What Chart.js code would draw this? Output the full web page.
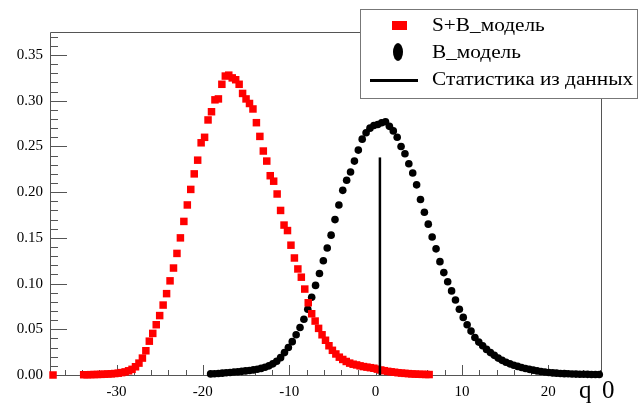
<!DOCTYPE html>
<html>
<head>
<meta charset="utf-8">
<script src="https://cdn.jsdelivr.net/npm/chart.js@4.4.1/dist/chart.umd.min.js"></script>
<style>
html,body{margin:0;padding:0;background:#fff;}
#wrap{width:642px;height:403px;}
</style>
</head>
<body>
<div id="wrap"><canvas id="c" width="642" height="403"></canvas></div>
<script>
// ---- data ----
const seriesLabels = ["S+B_модель", "B_модель", "Статистика из данных"];
const axisTitleX = ["q", "0"];

// S+B model: [q0, probability]
const sbModel = [
[-37.35,0.0000],
[-33.8,0.0003],[-33.4,0.0003],[-33.0,0.0004],[-32.6,0.0005],[-32.2,0.0006],[-31.8,0.0007],[-31.4,0.0009],[-31.0,0.0011],
[-30.6,0.0013],[-30.2,0.0016],[-29.8,0.0020],[-29.4,0.0026],[-29.0,0.0034],[-28.6,0.0046],[-28.2,0.0062],[-27.8,0.0090],
[-27.4,0.0130],[-27.0,0.0185],[-26.6,0.0265],[-26.2,0.0370],[-25.8,0.0455],[-25.4,0.0550],[-25.0,0.0650],[-24.6,0.0765],
[-24.2,0.0890],[-23.8,0.1030],[-23.4,0.1170],[-23.0,0.1330],[-22.6,0.1500],[-22.2,0.1680],[-21.8,0.1860],[-21.4,0.2030],
[-21.0,0.2200],[-20.6,0.2350],[-20.2,0.2540],[-19.8,0.2600],[-19.4,0.2790],[-19.0,0.2880],[-18.6,0.3010],[-18.2,0.3020],
[-17.8,0.3180],[-17.4,0.3270],[-17.0,0.3280],[-16.6,0.3250],[-16.2,0.3230],[-15.8,0.3180],[-15.4,0.3080],[-15.0,0.3020],
[-14.6,0.2970],[-14.2,0.2910],[-13.8,0.2760],[-13.4,0.2610],[-13.0,0.2450],[-12.6,0.2340],[-12.2,0.2180],[-11.8,0.2120],
[-11.4,0.1980],[-11.0,0.1800],[-10.6,0.1640],[-10.2,0.1580],[-9.8,0.1420],[-9.4,0.1280],[-9.0,0.1160],[-8.6,0.1070],
[-8.2,0.0940],[-7.8,0.0790],[-7.4,0.0670],[-7.0,0.0590],[-6.6,0.0510],[-6.2,0.0440],[-5.8,0.0380],[-5.4,0.0320],
[-5.0,0.0270],[-4.6,0.0230],[-4.2,0.0195],[-3.8,0.0170],[-3.4,0.0148],[-3.0,0.0130],[-2.6,0.0118],[-2.2,0.0110],
[-1.8,0.0100],[-1.4,0.0092],[-1.0,0.0086],[-0.6,0.0080],[-0.2,0.0074],[0.2,0.0064],[0.6,0.0055],[1.0,0.0047],
[1.4,0.0040],[1.8,0.0035],[2.2,0.0030],[2.6,0.0025],[3.0,0.0021],[3.4,0.0018],[3.8,0.0015],[4.2,0.0012],
[4.6,0.0010],[5.0,0.0008],[5.4,0.0007],[5.8,0.0006],[6.2,0.0005]
];

// B model: [q0, probability]
const bModel = [
[-19.1,0.0012],[-18.65,0.0014],[-18.2,0.0017],[-17.75,0.0020],[-17.3,0.0024],[-16.85,0.0028],[-16.4,0.0032],[-15.95,0.0036],
[-15.5,0.0040],[-15.05,0.0045],[-14.6,0.0050],[-14.15,0.0056],[-13.7,0.0063],[-13.25,0.0072],[-12.8,0.0084],[-12.35,0.0100],
[-11.9,0.0122],[-11.45,0.0150],[-11.0,0.0190],[-10.55,0.0245],[-10.1,0.0300],[-9.65,0.0365],[-9.2,0.0440],[-8.75,0.0520],
[-8.3,0.0610],[-7.85,0.0720],[-7.4,0.0850],[-6.95,0.0980],[-6.5,0.1110],[-6.05,0.1250],[-5.6,0.1390],[-5.15,0.1530],
[-4.7,0.1700],[-4.25,0.1860],[-3.8,0.2020],[-3.35,0.2130],[-2.9,0.2220],[-2.45,0.2340],[-2.0,0.2460],[-1.55,0.2580],
[-1.1,0.2650],[-0.65,0.2700],[-0.2,0.2730],[0.25,0.2740],[0.7,0.2760],[1.15,0.2770],[1.6,0.2720],[2.05,0.2670],
[2.5,0.2600],[2.95,0.2500],[3.4,0.2420],[3.85,0.2310],[4.3,0.2210],[4.75,0.2080],[5.2,0.1920],[5.65,0.1780],
[6.1,0.1650],[6.55,0.1510],[7.0,0.1380],[7.45,0.1240],[7.9,0.1120],[8.35,0.1020],[8.8,0.0920],[9.25,0.0820],
[9.7,0.0720],[10.15,0.0630],[10.6,0.0550],[11.05,0.0480],[11.5,0.0410],[11.95,0.0360],[12.4,0.0320],[12.85,0.0280],
[13.3,0.0245],[13.75,0.0215],[14.2,0.0185],[14.65,0.0160],[15.1,0.0140],[15.55,0.0122],[16.0,0.0107],[16.45,0.0094],
[16.9,0.0082],[17.35,0.0071],[17.8,0.0062],[18.25,0.0053],[18.7,0.0045],[19.15,0.0038],[19.6,0.0032],[20.05,0.0027],
[20.5,0.0023],[20.95,0.0020],[21.4,0.0017],[21.85,0.0015],[22.3,0.0013],[22.75,0.0011],[23.2,0.0010],[23.65,0.0009],
[24.1,0.0008],[24.55,0.0007],[25.0,0.0006],[25.45,0.0006],[25.9,0.0005]
];

// observed statistic from data
const dataStatQ = [0.5, 0.5];
const dataStatP = [0, 0.238];

// axes
const xRange = [-37.7, 26.1];
const yRange = [0, 0.3752];
const xTickValues = [-30, -20, -10, 0, 10, 20];
const yTickValues = [0, 0.05, 0.10, 0.15, 0.20, 0.25, 0.30, 0.35];
const xMinorStep = 2;
const yMinorStep = 0.01;

// ---- chart ----
const SERIF = '"Liberation Serif", "Times New Roman", serif';
const AXIS_COLOR = '#555555';

const rootFramePlugin = {
  id: 'rootFrame',
  beforeDatasetsDraw(chart) {
    const {ctx, chartArea: a} = chart;
    const xs = chart.scales.x, ys = chart.scales.y;
    ctx.save();
    ctx.strokeStyle = AXIS_COLOR;
    ctx.lineWidth = 1;
    ctx.beginPath();
    ctx.moveTo(a.left + 0.5, a.top + 0.5);
    ctx.lineTo(a.right + 0.5, a.top + 0.5);
    ctx.lineTo(a.right + 0.5, a.bottom + 0.5);
    ctx.lineTo(a.left + 0.5, a.bottom + 0.5);
    ctx.closePath();
    ctx.stroke();
    // x ticks (inward)
    ctx.beginPath();
    const xStart = Math.ceil(xs.min / xMinorStep) * xMinorStep;
    for (let v = xStart; v <= xs.max + 1e-9; v += xMinorStep) {
      const px = Math.round(xs.getPixelForValue(v)) + 0.5;
      const major = xTickValues.some(t => Math.abs(t - v) < 1e-6);
      ctx.moveTo(px, a.bottom);
      ctx.lineTo(px, a.bottom - (major ? 10 : 5));
    }
    // y ticks (inward)
    const nY = Math.floor((ys.max - ys.min) / yMinorStep + 1e-6);
    for (let k = 0; k <= nY; k++) {
      const v = ys.min + k * yMinorStep;
      const py = Math.round(ys.getPixelForValue(v)) + 0.5;
      const major = k % 5 === 0;
      ctx.moveTo(a.left, py);
      ctx.lineTo(a.left + (major ? 17 : 8), py);
    }
    ctx.stroke();
    ctx.restore();
  },
  afterDraw(chart) {
    const {ctx} = chart;
    const ds = chart.data.datasets;
    ctx.save();
    // legend box
    ctx.fillStyle = '#ffffff';
    ctx.fillRect(360.5, 9.5, 277, 89);
    ctx.strokeStyle = '#777777';
    ctx.lineWidth = 1;
    ctx.strokeRect(360.5, 9.5, 277, 89);
    // entry 1: red marker
    ctx.fillStyle = ds[0].backgroundColor;
    ctx.fillRect(392, 21, 15, 9);
    // entry 2: black ellipse marker
    ctx.fillStyle = ds[1].backgroundColor;
    ctx.beginPath();
    ctx.ellipse(398, 52, 5, 9, 0, 0, Math.PI * 2);
    ctx.fill();
    // entry 3: line
    ctx.strokeStyle = ds[2].borderColor;
    ctx.lineWidth = 3;
    ctx.beginPath();
    ctx.moveTo(370, 80.5);
    ctx.lineTo(418, 80.5);
    ctx.stroke();
    // texts (slightly wide serif, as in the reference)
    ctx.fillStyle = '#000';
    ctx.font = '19px ' + SERIF;
    ctx.textBaseline = 'middle';
    ctx.textAlign = 'left';
    const drawWide = (t, x, y) => {
      ctx.save();
      ctx.translate(x, y);
      ctx.scale(1.12, 1);
      ctx.fillText(t, 0, 0);
      ctx.restore();
    };
    drawWide(ds[0].label, 432, 26);
    drawWide(ds[1].label, 432, 53);
    drawWide(ds[2].label, 432, 80);
    // x-axis title
    ctx.font = '25px ' + SERIF;
    ctx.textBaseline = 'alphabetic';
    ctx.fillText(axisTitleX[0], 579, 398);
    ctx.fillText(axisTitleX[1], 602, 398);
    ctx.restore();
  }
};

new Chart(document.getElementById('c'), {
  type: 'scatter',
  data: {
    datasets: [
      {
        label: seriesLabels[0],
        data: sbModel.map(([x, y]) => ({x, y})),
        pointStyle: 'rect',
        pointRadius: 5.3,
        pointBorderWidth: 0,
        backgroundColor: '#ff0000',
        borderColor: '#ff0000',
        showLine: false,
        order: 1,
        clip: false
      },
      {
        label: seriesLabels[1],
        data: bModel.map(([x, y]) => ({x, y})),
        pointStyle: 'circle',
        pointRadius: 3.8,
        pointBorderWidth: 0,
        backgroundColor: '#000000',
        borderColor: '#000000',
        showLine: false,
        order: 2,
        clip: false
      },
      {
        label: seriesLabels[2],
        data: dataStatQ.map((x, i) => ({x, y: dataStatP[i]})),
        showLine: true,
        pointRadius: 0,
        borderColor: '#000000',
        backgroundColor: '#000000',
        borderWidth: 2.5,
        order: 0
      }
    ]
  },
  options: {
    responsive: false,
    devicePixelRatio: 1,
    animation: false,
    events: [],
    layout: {padding: {top: 32, right: 41, left: 0, bottom: 0}},
    plugins: {legend: {display: false}, tooltip: {enabled: false}},
    scales: {
      x: {
        type: 'linear',
        min: xRange[0], max: xRange[1],
        afterBuildTicks: s => { s.ticks = xTickValues.map(v => ({value: v})); },
        afterFit: s => { s.height = 28; },
        grid: {display: false, drawTicks: false},
        border: {display: false},
        ticks: {
          padding: 8,
          color: '#000',
          font: {family: SERIF, size: 15},
          maxRotation: 0,
          autoSkip: false,
          callback: v => String(v)
        }
      },
      y: {
        type: 'linear',
        min: yRange[0], max: yRange[1],
        afterBuildTicks: s => { s.ticks = yTickValues.map(v => ({value: v})); },
        afterFit: s => { s.width = 50; },
        grid: {display: false, drawTicks: false},
        border: {display: false},
        ticks: {
          padding: 7,
          color: '#000',
          font: {family: SERIF, size: 15},
          autoSkip: false,
          callback: v => Number(v).toFixed(2)
        }
      }
    }
  },
  plugins: [rootFramePlugin]
});
</script>
</body>
</html>
